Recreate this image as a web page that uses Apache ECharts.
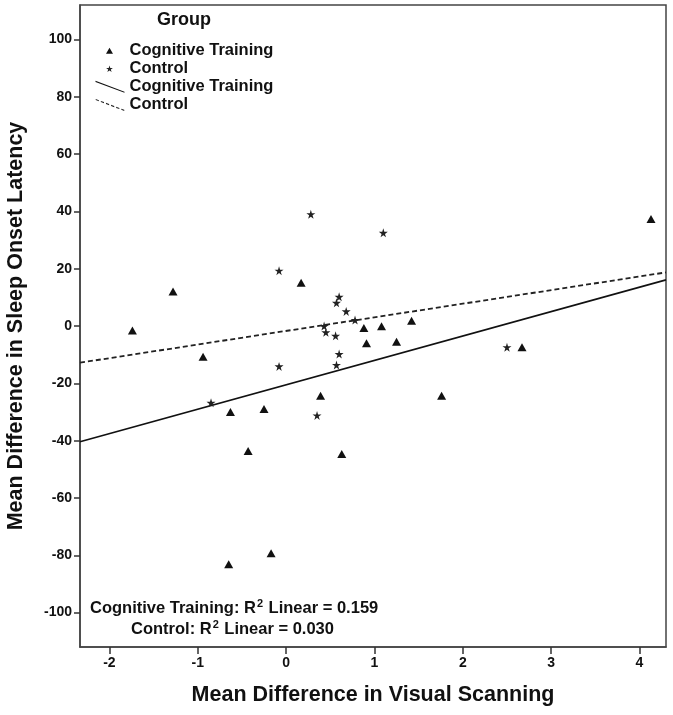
<!DOCTYPE html>
<html><head><meta charset="utf-8">
<script src="https://cdn.jsdelivr.net/npm/echarts@6/dist/echarts.min.js"></script>
<style>html,body{margin:0;padding:0;background:#fff}#c{width:673px;height:715px}</style>
</head><body><div id="c"></div>
<script>
// ---- data ----
const xTicks = [-2, -1, 0, 1, 2, 3, 4];
const yTicks = [-100, -80, -60, -40, -20, 0, 20, 40, 60, 80, 100];
const trainingX = [-1.74, -1.28, -0.94, -0.63, -0.43, -0.65, -0.25, -0.17, 0.17, 0.39, 0.63, 0.88, 0.91, 1.08, 1.25, 1.42, 1.76, 2.67, 4.13];
const trainingY = [-1.6, 12.0, -10.7, -30.0, -43.6, -83.1, -29.0, -79.3, 15.1, -24.3, -44.7, -0.7, -6.0, -0.1, -5.5, 1.8, -24.3, -7.4, 37.3];
const controlX = [-0.85, -0.08, -0.08, 0.28, 0.35, 0.43, 0.45, 0.56, 0.57, 0.60, 0.57, 0.60, 0.68, 0.78, 1.10, 2.50];
const controlY = [-26.8, 19.3, -14.1, 39.0, -31.2, 0.0, -2.2, -3.4, -13.6, -9.8, 8.1, 10.2, 5.1, 2.1, 32.5, -7.4];
const fitX = [-2.333, 4.30];
const trainingFitY = [-40.4, 16.1];
const controlFitY = [-12.8, 18.7];
const xRange = [-2.333, 4.30];
const yRange = [-112, 112];

const FONT = 'Liberation Sans, Arial, sans-serif';
const STAR = 'path://M50,0 L61,35 L98,35 L68,57 L79,91 L50,70 L21,91 L32,57 L2,35 L39,35 Z';
const pad = 'M0,0 L0.01,0 Z M29,13 L29.01,13 Z ';
const legTri = 'path://' + pad + 'M14,3.5 L17.5,9.5 L10.5,9.5 Z';
const legStar = 'path://' + pad + 'M14,3.3 L14.8,5.8 L17.4,5.8 L15.3,7.3 L16.1,9.8 L14,8.3 L11.9,9.8 L12.7,7.3 L10.6,5.8 L13.2,5.8 Z';
const legSolid = 'path://' + pad + 'M0,0.8 L29,11.6 L29,12.7 L0,1.9 Z';
let dashP = '';
for (let i = 0; i < 6; i++) {
  const a = i * 5.2, b = Math.min(a + 3.2, 29);
  const ya = 1 + a * 0.38, yb = 1 + b * 0.38;
  dashP += `M${a},${ya} L${b},${yb} L${b},${yb + 1.2} L${a},${ya + 1.2} Z `;
}
const legDash = 'path://' + pad + dashP;

const zip = (xs, ys) => xs.map((x, i) => [x, ys[i]]);

const chart = echarts.init(document.getElementById('c'));
const richStyle = {
  a: { fontSize: 16.5, fontWeight: 'bold', fill: '#111', fontFamily: FONT, lineHeight: 20 },
  s: { fontSize: 11, fontWeight: 'bold', fill: '#111', fontFamily: FONT, verticalAlign: 'top', lineHeight: 20, padding: [0, 1, 7, 1] }
};
chart.setOption({
  animation: false,
  backgroundColor: '#fff',
  title: {
    text: 'Group', left: 157, top: 11, padding: 0,
    textStyle: { fontSize: 18, fontWeight: 'bold', color: '#111', fontFamily: FONT }
  },
  legend: {
    orient: 'vertical', left: 95.5, top: 42, padding: 0, itemWidth: 29, itemHeight: 13, itemGap: 0.4,
    formatter: n => n.trim(),
    textStyle: { fontSize: 16.5, lineHeight: 17.5, fontWeight: 'bold', color: '#111', fontFamily: FONT },
    data: [
      { name: 'Cognitive Training', icon: legTri },
      { name: 'Control', icon: legStar },
      { name: 'Cognitive Training ', icon: legSolid },
      { name: 'Control ', icon: legDash }
    ]
  },
  grid: {
    left: 80, top: 5, right: 7, bottom: 68, show: true, outerBoundsMode: 'none', containLabel: false,
    borderColor: '#444', borderWidth: 1.5, backgroundColor: '#fff'
  },
  xAxis: {
    type: 'value', min: xRange[0], max: xRange[1],
    name: 'Mean Difference in Visual Scanning', nameLocation: 'middle', nameGap: 37,
    nameTextStyle: { fontSize: 21.5, fontWeight: 'bold', color: '#111', fontFamily: FONT },
    axisLine: { show: true, onZero: false, lineStyle: { color: '#444', width: 1.5 } },
    axisTick: { show: true, length: 7, customValues: xTicks, lineStyle: { color: '#333', width: 1.5 } },
    axisLabel: { customValues: xTicks, margin: 9, fontSize: 14, fontWeight: 'bold', color: '#111', fontFamily: FONT },
    splitLine: { show: false }
  },
  yAxis: {
    type: 'value', min: yRange[0], max: yRange[1],
    name: 'Mean Difference in Sleep Onset Latency', nameLocation: 'middle', nameGap: 53,
    nameTextStyle: { fontSize: 21.5, fontWeight: 'bold', color: '#111', fontFamily: FONT },
    axisLine: { show: true, onZero: false, lineStyle: { color: '#444', width: 1.5 } },
    axisTick: { show: true, length: 6, customValues: yTicks, lineStyle: { color: '#333', width: 1.5 } },
    axisLabel: { customValues: yTicks, margin: 8, fontSize: 14, fontWeight: 'bold', color: '#111', fontFamily: FONT },
    splitLine: { show: false }
  },
  series: [
    {
      name: 'Cognitive Training', type: 'scatter', symbol: 'triangle', symbolSize: [9, 8],
      itemStyle: { color: '#111', opacity: 1 }, data: zip(trainingX, trainingY), z: 3
    },
    {
      name: 'Control', type: 'scatter', symbol: STAR, symbolSize: 9,
      itemStyle: { color: '#222', opacity: 1 }, data: zip(controlX, controlY), z: 3
    },
    {
      name: 'Cognitive Training ', type: 'line', symbol: 'none', silent: true,
      lineStyle: { color: '#111', width: 1.6 }, itemStyle: { color: '#111' },
      data: zip(fitX, trainingFitY), z: 2
    },
    {
      name: 'Control ', type: 'line', symbol: 'none', silent: true,
      lineStyle: { color: '#222', width: 1.8, type: [5, 3] }, itemStyle: { color: '#222' },
      data: zip(fitX, controlFitY), z: 2
    }
  ],
  graphic: [
    {
      type: 'text', left: 90, top: 598, z: 10,
      style: { text: '{a|Cognitive Training: R}{s|2}{a| Linear = 0.159}', rich: richStyle }
    },
    {
      type: 'text', left: 131, top: 619, z: 10,
      style: { text: '{a|Control: R}{s|2}{a| Linear = 0.030}', rich: richStyle }
    }
  ]
});
</script>
</body></html>
